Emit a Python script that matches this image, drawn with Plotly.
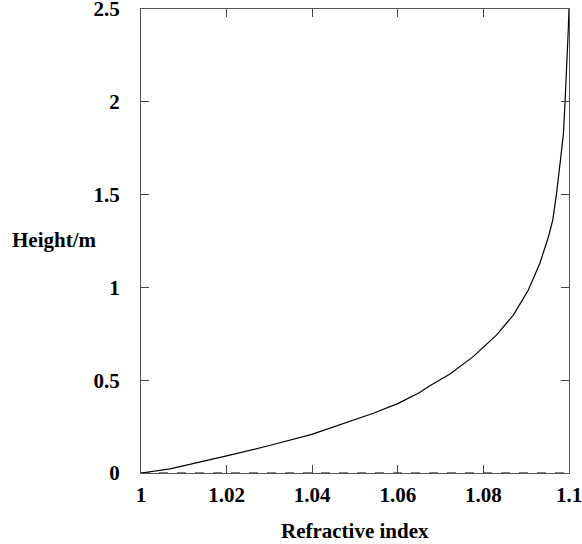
import plotly.graph_objects as go

# Data
refractive_index = [1.000, 1.0068, 1.0200, 1.0300, 1.0399, 1.0500, 1.0543, 1.0601, 1.0650,
                    1.0675, 1.0722, 1.0776, 1.0831, 1.0870, 1.0905, 1.0932, 1.0952,
                    1.0962, 1.0971, 1.0980, 1.0987, 1.0991, 1.0995, 1.0998, 1.1000]
height_m = [0.000, 0.022, 0.092, 0.148, 0.208, 0.285, 0.322, 0.375, 0.432,
            0.470, 0.533, 0.627, 0.744, 0.851, 0.986, 1.130, 1.273,
            1.363, 1.507, 1.686, 1.830, 2.010, 2.190, 2.370, 2.500]

x_tick_vals = [1.0, 1.02, 1.04, 1.06, 1.08, 1.1]
x_tick_text = ["1", "1.02", "1.04", "1.06", "1.08", "1.1"]
y_tick_vals = [0, 0.5, 1, 1.5, 2, 2.5]
y_tick_text = ["0", "0.5", "1", "1.5", "2", "2.5"]

font_family = "Liberation Serif, Times New Roman, serif"

fig = go.Figure()
fig.add_trace(go.Scatter(x=refractive_index, y=height_m, mode="lines",
                         line=dict(color="black", width=1.2), showlegend=False))

fig.add_hline(y=0, line=dict(color="black", width=1.2, dash="dash"))

axis_common = dict(showgrid=False, zeroline=False, showline=True, linecolor="#555555",
                   linewidth=1, mirror="all", ticks="inside", ticklen=8, tickwidth=1,
                   tickcolor="#444444", automargin=False, ticklabeloverflow="allow",
                   tickfont=dict(family=font_family, size=21, color="black", weight="bold"))

fig.update_xaxes(range=[1.0, 1.1], tickvals=x_tick_vals, ticktext=x_tick_text,
                 ticklabelstandoff=3, **axis_common)
fig.update_yaxes(range=[0, 2.5], tickvals=y_tick_vals, ticktext=y_tick_text,
                 ticklabelstandoff=16, **axis_common)

fig.add_annotation(text="<b>Refractive index</b>", xref="paper", yref="paper",
                   x=0.5, y=0, yshift=-58, showarrow=False, yanchor="middle",
                   font=dict(family=font_family, size=21, color="black"))
fig.add_annotation(text="<b>Height/m</b>", xref="paper", yref="paper",
                   x=0, xshift=-87, y=(473 - 240) / 464, showarrow=False, xanchor="center",
                   yanchor="middle",
                   font=dict(family=font_family, size=21, color="black"))

fig.update_layout(width=582, height=544, margin=dict(l=141, r=13, t=9, b=71, autoexpand=False),
                  plot_bgcolor="white", paper_bgcolor="white", hovermode=False)

fig.write_html("out.html", config={"displayModeBar": False},
               post_script="document.body.style.margin='0';")
